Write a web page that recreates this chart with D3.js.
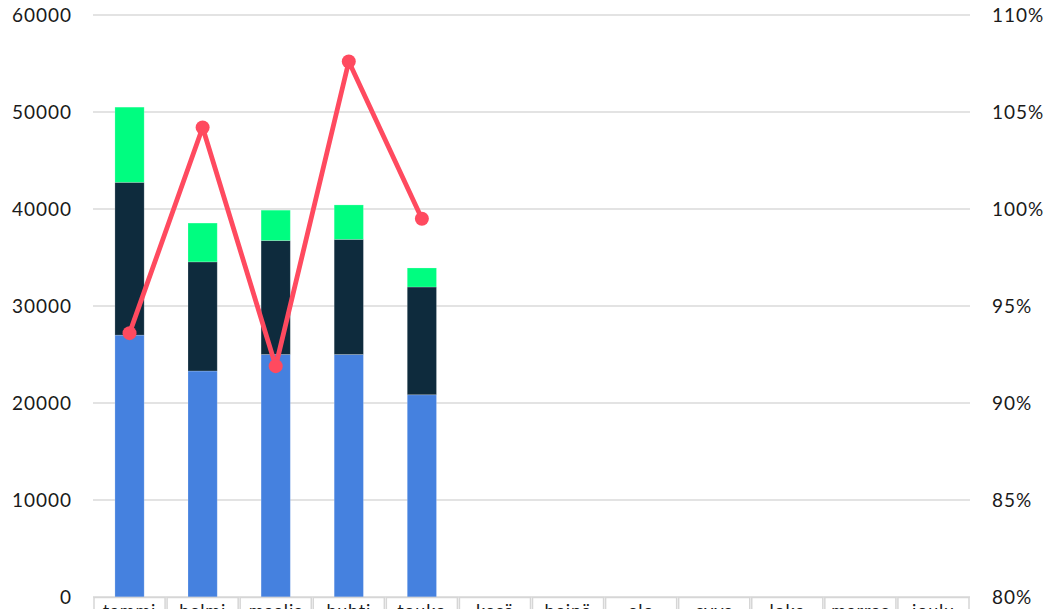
<!DOCTYPE html>
<html><head><meta charset="utf-8">
<script src="https://cdn.jsdelivr.net/npm/d3@7"></script>
<style>body{margin:0;background:#fff}svg{display:block}</style>
</head><body>
<svg id="c" width="1057" height="609"></svg>
<script>
const months = ["tammi","helmi","maalis","huhti","touko","kesä","heinä","elo","syys","loka","marras","joulu"];
const seriesBlue = [27000, 23300, 25000, 25000, 20850];
const seriesDark = [15750, 11250, 11750, 11870, 11110];
const seriesGreen = [7750, 4000, 3130, 3550, 1960];
const ratio = [93.6, 104.2, 91.9, 107.6, 99.5];
const leftTicks = [0,10000,20000,30000,40000,50000,60000];
const rightTicks = [80,85,90,95,100,105,110];

const svg = d3.select("#c");
const font = "Lato, 'Open Sans', sans-serif";
const x = d3.scaleBand().domain(months).range([93, 970]).padding(0);
const y = d3.scaleLinear().domain([0, 60000]).range([597, 15]);
const y2 = d3.scaleLinear().domain([80, 110]).range([597, 15]);

// gridlines
svg.append("g").selectAll("line").data(leftTicks).join("line")
  .attr("x1", 93).attr("x2", 970)
  .attr("y1", d => y(d)).attr("y2", d => y(d))
  .attr("stroke", "#dadada").attr("stroke-width", 1.5);

// left axis labels
svg.append("g").selectAll("text").data(leftTicks).join("text")
  .attr("x", 72).attr("y", d => y(d)).attr("dy", "0.36em")
  .attr("text-anchor", "end").attr("font-family", font).attr("font-size", 19)
  .attr("letter-spacing", 1).attr("fill", "#1a1a1a").text(d => d);

// right axis labels
svg.append("g").selectAll("text").data(rightTicks).join("text")
  .attr("x", 992).attr("y", d => y2(d)).attr("dy", "0.36em")
  .attr("text-anchor", "start").attr("font-family", font).attr("font-size", 19)
  .attr("letter-spacing", 1).attr("fill", "#1a1a1a").text(d => d + "%");

// stacked bars
const stackData = seriesBlue.map((b, i) => ({m: months[i], blue: b, dark: seriesDark[i], green: seriesGreen[i]}));
const stack = d3.stack().keys(["blue","dark","green"])(stackData);
const colors = {blue: "#4581df", dark: "#0e2b3d", green: "#00fd80"};
const bw = x.bandwidth() * 0.4;
svg.append("g").selectAll("g").data(stack).join("g")
  .attr("fill", d => colors[d.key])
  .selectAll("rect").data(d => d).join("rect")
  .attr("x", d => x(d.data.m) + (x.bandwidth() - bw) / 2)
  .attr("width", bw)
  .attr("y", d => y(d[1]))
  .attr("height", d => y(d[0]) - y(d[1]))
  .attr("stroke", "rgba(255,255,255,0.25)").attr("stroke-width", 0.8);

// line
const lineData = ratio.map((r, i) => ({m: months[i], r}));
const line = d3.line().x(d => x(d.m) + x.bandwidth()/2).y(d => y2(d.r));
svg.append("path").datum(lineData).attr("d", line)
  .attr("fill", "none").attr("stroke", "#ff4a5f").attr("stroke-width", 4.8)
  .attr("stroke-linejoin", "round");
svg.append("g").selectAll("circle").data(lineData).join("circle")
  .attr("cx", d => x(d.m) + x.bandwidth()/2).attr("cy", d => y2(d.r))
  .attr("r", 7).attr("fill", "#ff4a5f");

// category boxes
const cat = svg.append("g");
cat.selectAll("rect").data(months).join("rect")
  .attr("x", d => x(d) + 1).attr("y", 597.5)
  .attr("width", x.bandwidth() - 2).attr("height", 40)
  .attr("fill", "#fff").attr("stroke", "#d6d6d6").attr("stroke-width", 1.5);
cat.selectAll("text").data(months).join("text")
  .attr("x", d => x(d) + x.bandwidth()/2).attr("y", 617)
  .attr("text-anchor", "middle").attr("font-family", font).attr("font-size", 18)
  .attr("letter-spacing", 0.8).attr("fill", "#1a1a1a").text(d => d);
</script>
</body></html>
